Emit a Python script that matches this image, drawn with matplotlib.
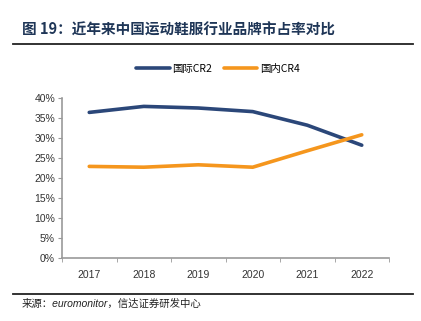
import matplotlib.pyplot as plt
from matplotlib.ticker import PercentFormatter

plt.rcParams["font.family"] = ["Liberation Sans", "Noto Sans CJK SC", "DejaVu Sans"]

years = ["2017", "2018", "2019", "2020", "2021", "2022"]
intl_cr2 = [36.4, 37.9, 37.5, 36.6, 33.2, 28.2]
domestic_cr4 = [22.9, 22.7, 23.3, 22.7, 26.8, 30.8]
y_ticks = [0, 5, 10, 15, 20, 25, 30, 35, 40]

fig = plt.figure(figsize=(4.21, 3.21), dpi=100)
W, H = 421, 321
ax = fig.add_axes([62 / W, (H - 258) / H, 327 / W, 160 / H])

x = range(len(years))
ax.plot(x, intl_cr2, color="#2b4779", lw=2.6, label="国际CR2", solid_capstyle="round")
ax.plot(x, domestic_cr4, color="#f5961d", lw=2.6, label="国内CR4", solid_capstyle="round")

ax.set_xlim(-0.5, len(years) - 0.5)
ax.set_ylim(0, 40)
ax.set_yticks(y_ticks)
ax.yaxis.set_major_formatter(PercentFormatter(decimals=0))
ax.set_xticks(x)
ax.set_xticklabels(years)
# category boundary ticks on the x axis
ax.set_xticks([i - 0.5 for i in range(len(years) + 1)], minor=True)
ax.tick_params(axis="x", which="major", length=0, pad=9, labelsize=7.5, colors="#333333")
ax.tick_params(axis="x", which="minor", length=3, direction="out", color="#999999")
ax.tick_params(axis="y", length=3, color="#999999", labelsize=7.5, labelcolor="#333333", pad=2)
for side in ("top", "right"):
    ax.spines[side].set_visible(False)
for side in ("left", "bottom"):
    ax.spines[side].set_color("#999999")
    ax.spines[side].set_linewidth(1.2)

fig.legend(loc="center", bbox_to_anchor=(218 / W, (H - 69) / H), ncol=2, frameon=False,
           handlelength=3.2, handletextpad=0.25, columnspacing=1.1,
           prop={"family": ["Noto Sans CJK SC"], "size": 7.5})

fig.text(22 / W, (H - 30) / H, "图 19：近年来中国运动鞋服行业品牌市占率对比", fontsize=10.5,
         fontweight="bold", color="#1f3657", va="center", family=["Noto Sans CJK SC"])
fig.add_artist(plt.Line2D([13 / W, 413 / W], [(H - 44) / H] * 2, color="#222222", lw=1.3))
fig.add_artist(plt.Line2D([13 / W, 413 / W], [(H - 294) / H] * 2, color="#222222", lw=1.3))
fig.text(22 / W, (H - 304) / H, "来源：euromonitor，信达证券研发中心", fontsize=7.5,
         style="italic", color="#222222", va="center",
         family=["Liberation Sans", "Noto Sans CJK SC"])

fig.savefig("out.png", dpi=100)
